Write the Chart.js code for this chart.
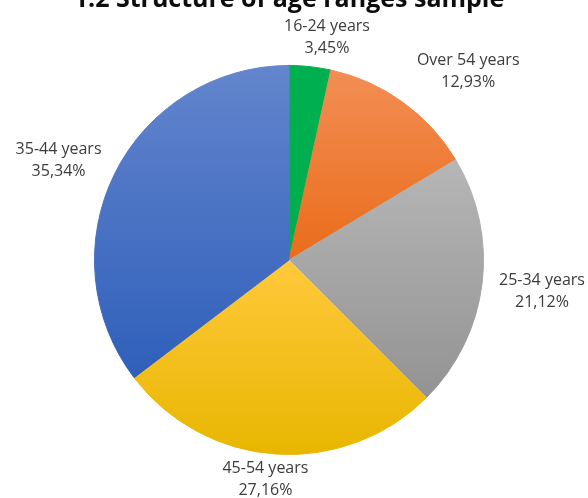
<!DOCTYPE html>
<html>
<head>
<meta charset="utf-8">
<script src="https://cdn.jsdelivr.net/npm/chart.js@4.4.1/dist/chart.umd.min.js"></script>
<style>
  html, body { margin: 0; padding: 0; background: #ffffff; }
  #wrap { width: 588px; height: 498px; position: relative; }
</style>
</head>
<body>
<div id="wrap"><canvas id="pie" width="588" height="498"></canvas></div>
<script>
// Age groups, clockwise from 12 o'clock
const categories = ['16-24 years', 'Over 54 years', '25-34 years', '45-54 years', '35-44 years'];
// Share of the sample, in percent
const shares = [3.45, 12.93, 21.12, 27.16, 35.34];
// Printed values (comma as decimal separator)
const shareLabels = shares.map(v => v.toFixed(2).replace('.', ',') + '%');

const chartTitle = '1.2 Structure of age ranges sample';

// Light (top) and dark (bottom) colour of each slice's vertical gradient
const sliceTop    = ['#00B050', '#F28E54', '#B6B6B6', '#FFC93C', '#6385CD'];
const sliceBottom = ['#00AD4E', '#EA6C1A', '#939393', '#E8B600', '#2F5FBA'];

// Nudges applied to each label after it is placed outside its slice
const labelNudge = [[13, 7], [32, 16], [5, 1], [-8, -9], [-4, 13]];

const LABEL_FONT = '16px "Open Sans", sans-serif';
const LINE_H = 22;

// Gives every slice a top-to-bottom gradient spanning its own bounding box
const sliceGradient = {
  id: 'sliceGradient',
  afterDatasetsUpdate(chart) {
    const ctx = chart.ctx;
    const meta = chart.getDatasetMeta(0);
    meta.data.forEach((arc, i) => {
      const p = arc.getProps(['x', 'y', 'startAngle', 'endAngle', 'outerRadius'], true);
      const ys = [p.y, p.y + Math.sin(p.startAngle) * p.outerRadius, p.y + Math.sin(p.endAngle) * p.outerRadius];
      // include the top/bottom extremes if the slice sweeps over them
      [-Math.PI / 2, Math.PI / 2, 3 * Math.PI / 2].forEach(a => {
        if (a > p.startAngle && a < p.endAngle) ys.push(p.y + Math.sin(a) * p.outerRadius);
      });
      const y0 = Math.min(...ys), y1 = Math.max(...ys);
      const g = ctx.createLinearGradient(0, y0, 0, y1);
      g.addColorStop(0, sliceTop[i]);
      g.addColorStop(1, sliceBottom[i]);
      arc.options = Object.assign({}, arc.options, { backgroundColor: g, borderColor: g });
    });
  }
};

// Category name and share, stacked in two lines just outside each slice
const outsideLabels = {
  id: 'outsideLabels',
  afterDatasetsDraw(chart) {
    const ctx = chart.ctx;
    const meta = chart.getDatasetMeta(0);
    ctx.save();
    ctx.font = LABEL_FONT;
    ctx.fillStyle = '#3c3c3c';
    ctx.textAlign = 'center';
    ctx.textBaseline = 'middle';
    meta.data.forEach((arc, i) => {
      const p = arc.getProps(['x', 'y', 'startAngle', 'endAngle', 'outerRadius'], true);
      const mid = (p.startAngle + p.endAngle) / 2;
      const dx = Math.cos(mid), dy = Math.sin(mid);
      const w = Math.max(ctx.measureText(categories[i]).width, ctx.measureText(shareLabels[i]).width);
      const h = LINE_H * 2;
      const ext = Math.abs(dx) * w / 2 + Math.abs(dy) * h / 2;
      const dist = p.outerRadius + 10 + ext;
      const cx = p.x + dx * dist + labelNudge[i][0];
      const cy = p.y + dy * dist + labelNudge[i][1];
      ctx.fillText(categories[i], cx, cy - LINE_H / 2);
      ctx.fillText(shareLabels[i], cx, cy + LINE_H / 2);
    });
    ctx.restore();
  }
};

// Title sitting at the very top edge of the canvas
const topTitle = {
  id: 'topTitle',
  afterDraw(chart) {
    const ctx = chart.ctx;
    ctx.save();
    ctx.font = 'bold 25px "Open Sans", sans-serif';
    ctx.fillStyle = '#0d0d0d';
    ctx.textAlign = 'center';
    ctx.textBaseline = 'alphabetic';
    ctx.fillText(chartTitle, 289, 7);
    ctx.restore();
  }
};

new Chart(document.getElementById('pie'), {
  type: 'pie',
  data: {
    labels: categories,
    datasets: [{
      data: shares,
      backgroundColor: sliceTop,
      borderWidth: 1,
      borderColor: sliceTop
    }]
  },
  options: {
    responsive: false,
    animation: false,
    events: [],
    layout: { padding: { left: 94, right: 104, top: 65, bottom: 43 } },
    plugins: {
      legend: { display: false },
      title: { display: false },
      tooltip: { enabled: false }
    }
  },
  plugins: [sliceGradient, outsideLabels, topTitle]
});
</script>
</body>
</html>
